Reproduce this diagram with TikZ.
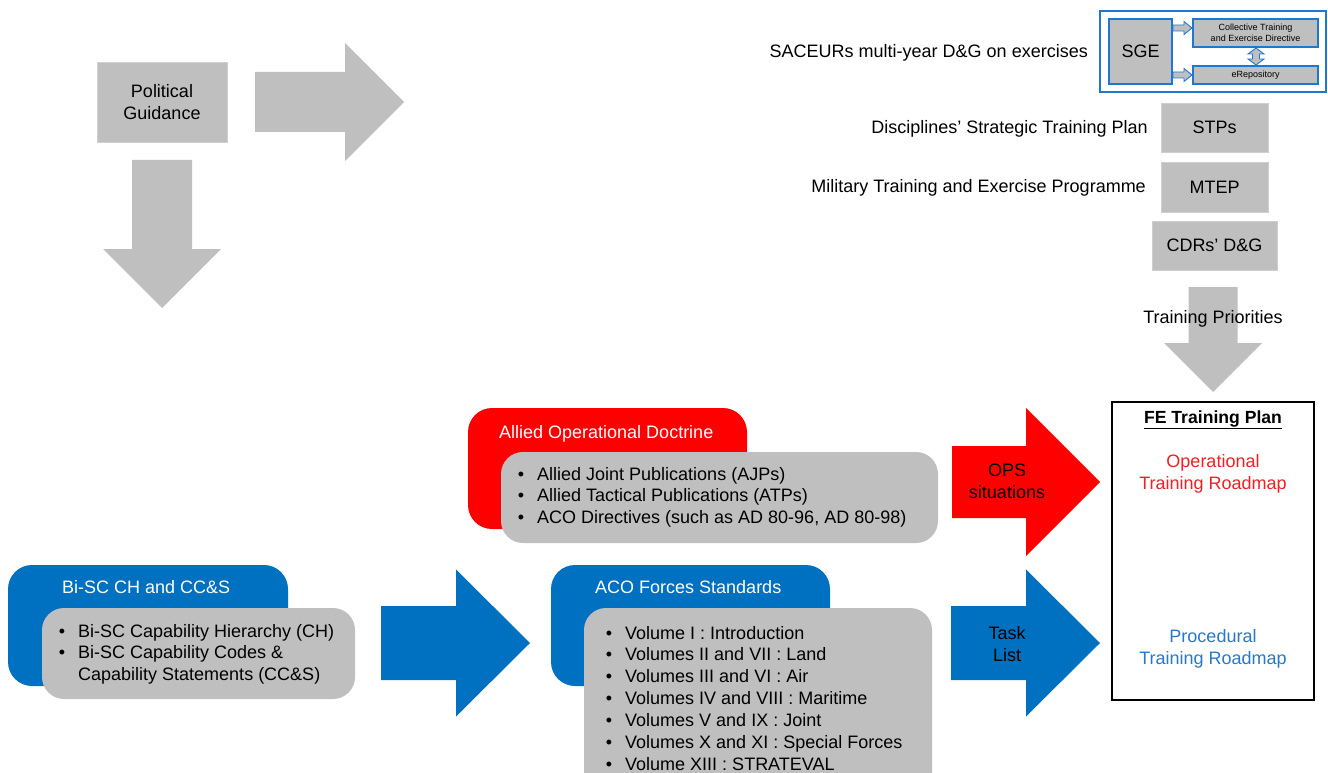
\documentclass[tikz,border=0pt]{standalone}
\usepackage{fontspec}
\setmainfont{Liberation Sans}
\definecolor{boxgray}{HTML}{BFBFBF}
\definecolor{boxline}{HTML}{CFCFCF}
\definecolor{natoblue}{HTML}{0070C0}
\definecolor{sgeblue}{RGB}{30,120,210}
\definecolor{opred}{HTML}{FF0000}
\definecolor{oproad}{RGB}{238,32,36}
\definecolor{procblue}{RGB}{40,120,200}
% bullet hanging to the left of the item text
\newcommand{\itembullet}{\llap{\textbullet\hspace{13pt}}}
% right-pointing block arrow: colour, tail x, head x, tip x, centre y, shaft half, head half
\newcommand{\blockright}[7]{%
  \fill[#1] (#2,{#5-#6}) -- (#3,{#5-#6}) -- (#3,{#5-#7}) -- (#4,#5)
    -- (#3,{#5+#7}) -- (#3,{#5+#6}) -- (#2,{#5+#6}) -- cycle;}
% downward block arrow: colour, top y, head y, tip y, centre x, shaft half, head half
\newcommand{\blockdown}[7]{%
  \fill[#1] ({#5-#6},#2) -- ({#5+#6},#2) -- ({#5+#6},#3) -- ({#5+#7},#3) -- (#5,#4)
    -- ({#5-#7},#3) -- ({#5-#6},#3) -- cycle;}
\begin{document}
\begin{tikzpicture}[x=1pt,y=-1pt,
  every node/.style={font=\fontsize{18}{22}\selectfont, inner sep=0pt},
  graybox/.style={fill=boxgray, draw=boxline, line width=0.8pt, align=center},
  panel/.style={rounded corners=24pt},
  listpanel/.style={fill=boxgray, rounded corners=22pt},
  paneltitle/.style={anchor=base west, text=white},
  listline/.style={anchor=base west, text=black},
  sidelabel/.style={anchor=base east, text=black},
  sgebox/.style={fill=boxgray, draw=sgeblue, line width=1.1pt, align=center},
  smallarrow/.style={fill=boxgray, draw=sgeblue, line width=0.9pt, line join=miter}]
\useasboundingbox (0,0) rectangle (1328,773);
\clip (0,0) rectangle (1328,773);

% ---- Political guidance and its two grey arrows
\node[graybox, minimum width=130, minimum height=80] (pg) at (162,102) {Political\\Guidance};
\blockright{boxgray}{255}{345}{404}{102}{30}{59}
\blockdown{boxgray}{160}{249}{308}{162}{30}{59}

% ---- SGE cluster
\node[draw=sgeblue, line width=1.6pt, minimum width=226, minimum height=81] (sgeframe) at (1213,51.5) {};
\node[sgebox, minimum width=63, minimum height=65] (sge) at (1140.5,51.5) {SGE};
\node[sgebox, minimum width=125, minimum height=28, font=\fontsize{9}{10.5}\selectfont] (ctd) at (1255.5,33)
  {Collective Training\\and Exercise Directive};
\node[sgebox, minimum width=125, minimum height=18, font=\fontsize{9}{10.5}\selectfont] (erep) at (1255.5,75) {eRepository};
\draw[smallarrow] (1173,25) -- (1184,25) -- (1184,21.5) -- (1192,28) -- (1184,34.5) -- (1184,31) -- (1173,31) -- cycle;
\draw[smallarrow] (1173,72) -- (1184,72) -- (1184,68.5) -- (1192,75) -- (1184,81.5) -- (1184,78) -- (1173,78) -- cycle;
\draw[smallarrow] (1256,48) -- (1264,54) -- (1259.5,54) -- (1259.5,59) -- (1264,59) -- (1256,65)
  -- (1248,59) -- (1252.5,59) -- (1252.5,54) -- (1248,54) -- cycle;
\node[sidelabel] (saceur) at (1088,58) {SACEURs multi-year D\&G on exercises};

% ---- STPs, MTEP and commanders' direction
\node[graybox, minimum width=107, minimum height=49] (stp) at (1214.5,127.5) {STPs};
\node[sidelabel] (stplab) at (1148,134) {Disciplines’ Strategic Training Plan};
\node[graybox, minimum width=107, minimum height=50] (mtep) at (1214.5,187) {MTEP};
\node[sidelabel] (mteplab) at (1146,193) {Military Training and Exercise Programme};
\node[graybox, minimum width=125, minimum height=49] (cdr) at (1214.5,245.5) {CDRs’ D\&G};

% ---- training priorities arrow
\blockdown{boxgray}{287}{343}{392}{1213}{24.5}{49}
\node (prio) at (1213,319) {Training Priorities};

% ---- FE training plan
\node[draw=black, line width=2.6pt, minimum width=202, minimum height=298] (fe) at (1213,551) {};
\node[anchor=base, font=\fontsize{17.6}{22}\selectfont\bfseries] (fetitle) at (1213,423) {\underline{FE Training Plan}};
\node[text=oproad, align=center] (opr) at (1213,473.5) {Operational\\Training Roadmap};
\node[text=procblue, align=center] (prr) at (1213,648.5) {Procedural\\Training Roadmap};

% ---- Allied operational doctrine
\node[panel, fill=opred, minimum width=279, minimum height=121] (aod) at (607.5,468.5) {};
\node[paneltitle] (aodtitle) at (499,438) {Allied Operational Doctrine};
\node[listpanel, minimum width=437, minimum height=91] (aodlist) at (719.5,497.5) {};
\foreach \t [count=\i from 0] in {Allied Joint Publications (AJPs), Allied Tactical Publications (ATPs),
    {ACO Directives (such as AD 80-96, AD 80-98)}}
  \node[listline] (aod\i) at (537,480+21.5*\i) {\itembullet\t};
\blockright{opred}{952}{1026}{1100}{482}{36}{74}
\node[align=center] (ops) at (1007,481.5) {OPS\\situations};

% ---- Bi-SC capability hierarchy
\node[panel, fill=natoblue, minimum width=280, minimum height=121] (bisc) at (148,625.5) {};
\node[paneltitle] (bisctitle) at (62,593) {Bi-SC CH and CC\&S};
\node[listpanel, minimum width=313, minimum height=91] (bisclist) at (198.5,653.5) {};
\node[listline] (bisc0) at (78,637) {\itembullet Bi-SC Capability Hierarchy (CH)};
\node[listline] (bisc1) at (78,658.5) {\itembullet Bi-SC Capability Codes \&};
\node[listline] (bisc2) at (78,680) {Capability Statements (CC\&S)};
\blockright{natoblue}{381}{456}{530}{643}{37}{73.5}

% ---- ACO forces standards
\node[panel, fill=natoblue, minimum width=279, minimum height=121] (aco) at (690.5,625.5) {};
\node[paneltitle] (acotitle) at (595,593) {ACO Forces Standards};
\node[listpanel, minimum width=348, minimum height=200] (acolist) at (758,708) {};
\foreach \t [count=\i from 0] in {Volume I : Introduction, Volumes II and VII\ : Land,
    Volumes III and VI : Air, Volumes IV and VIII\ : Maritime, Volumes V and IX : Joint,
    Volumes X and XI : Special Forces, Volume XIII\ : STRATEVAL}
  \node[listline] (vol\i) at (625,639+21.9*\i) {\itembullet\t};
\blockright{natoblue}{951}{1026}{1100}{643}{37}{73.5}
\node[align=center] (task) at (1007,644) {Task\\List};
\end{tikzpicture}
\end{document}
